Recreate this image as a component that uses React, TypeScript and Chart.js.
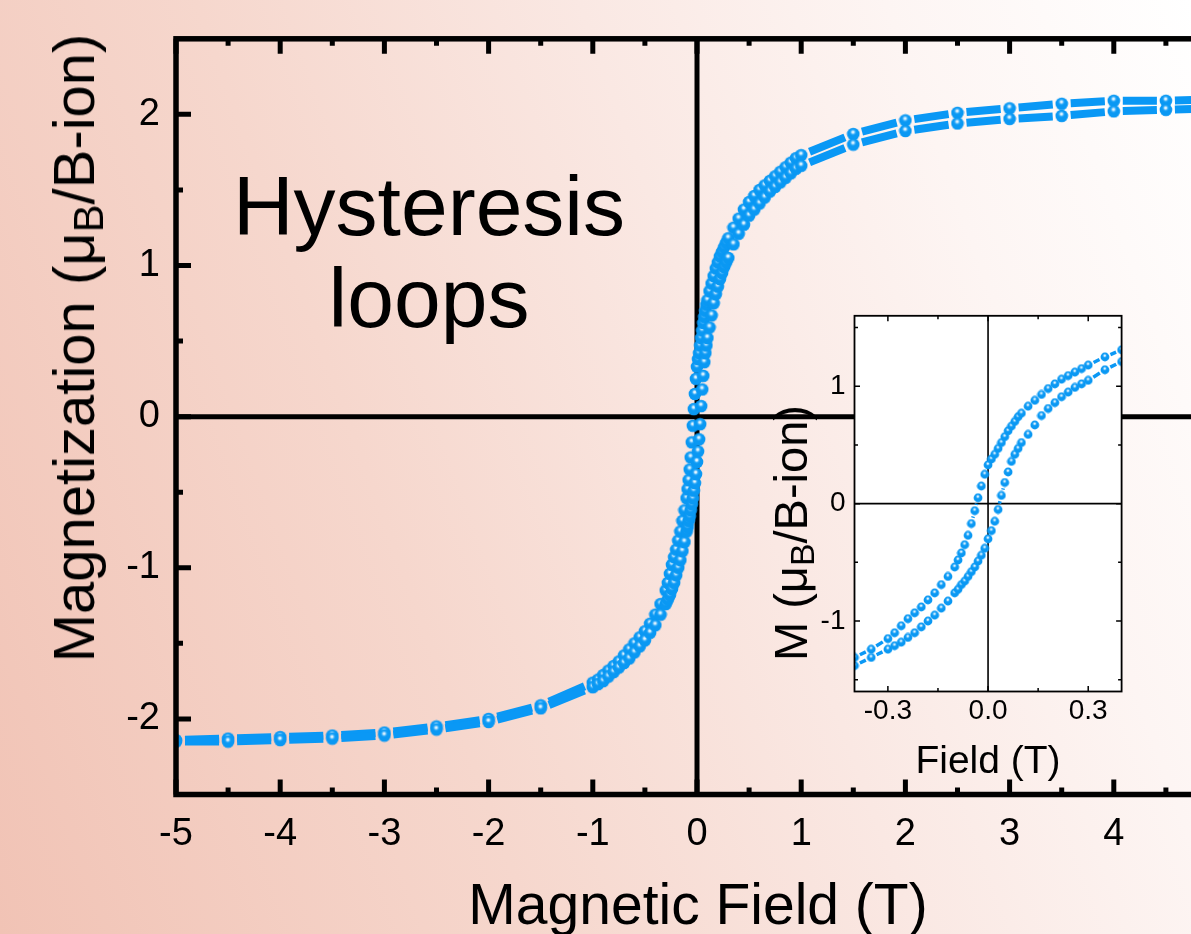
import React, { useEffect, useRef } from 'react';
import { Chart, registerables } from 'chart.js';

Chart.register(...registerables);

// ---- data (field in T, magnetization in muB/B-ion) ----
const FIELD = [
  -5, -4.5, -4, -3.5, -3, -2.5, -2, -1.5, -1,
  -0.95, -0.9, -0.85, -0.8, -0.75, -0.7, -0.65, -0.6, -0.55, -0.5, -0.45, -0.4, -0.35,
  -0.3, -0.28, -0.26, -0.24, -0.22, -0.2, -0.18, -0.16, -0.14, -0.12,
  -0.1, -0.09, -0.08, -0.07, -0.06, -0.05, -0.04, -0.03, -0.02, -0.01, 0,
  0.01, 0.02, 0.03, 0.04, 0.05, 0.06, 0.07, 0.08, 0.09, 0.1,
  0.12, 0.14, 0.16, 0.18, 0.2, 0.22, 0.24, 0.26, 0.28, 0.3,
  0.35, 0.4, 0.45, 0.5, 0.55, 0.6, 0.65, 0.7, 0.75, 0.8, 0.85, 0.9, 0.95, 1,
  1.5, 2, 2.5, 3, 3.5, 4, 4.5, 5,
];

// descending branch (upper)
const M_DOWN = [
  -2.14, -2.13, -2.12, -2.11, -2.09, -2.05, -2.0, -1.91, -1.76,
  -1.74, -1.71, -1.68, -1.65, -1.62, -1.58, -1.54, -1.5, -1.46, -1.42, -1.37, -1.31, -1.24,
  -1.15, -1.1, -1.04, -0.98, -0.93, -0.88, -0.82, -0.76, -0.69, -0.62,
  -0.54, -0.48, -0.42, -0.35, -0.27, -0.17, -0.06, 0.05, 0.15, 0.25, 0.33,
  0.38, 0.42, 0.47, 0.52, 0.57, 0.62, 0.66, 0.7, 0.74, 0.77,
  0.83, 0.88, 0.93, 0.98, 1.02, 1.06, 1.09, 1.12, 1.15, 1.18,
  1.25, 1.31, 1.37, 1.42, 1.46, 1.5, 1.53, 1.56, 1.59, 1.62, 1.65, 1.68, 1.71, 1.73,
  1.87, 1.96, 2.01, 2.04, 2.07, 2.09, 2.09, 2.1,
];

// ascending branch (lower)
const M_UP = [
  -2.15, -2.15, -2.14, -2.13, -2.11, -2.07, -2.02, -1.93, -1.79,
  -1.77, -1.75, -1.72, -1.69, -1.66, -1.63, -1.6, -1.56, -1.52, -1.48, -1.43, -1.38, -1.31,
  -1.24, -1.21, -1.18, -1.14, -1.1, -1.05, -1.0, -0.95, -0.89, -0.83,
  -0.76, -0.73, -0.69, -0.66, -0.62, -0.58, -0.54, -0.49, -0.44, -0.38, -0.3,
  -0.23, -0.15, -0.05, 0.07, 0.18, 0.27, 0.36, 0.42, 0.47, 0.52,
  0.59, 0.67, 0.75, 0.81, 0.86, 0.91, 0.95, 0.99, 1.02, 1.05,
  1.14, 1.21, 1.27, 1.33, 1.37, 1.41, 1.45, 1.49, 1.52, 1.55, 1.58, 1.61, 1.64, 1.66,
  1.8, 1.89, 1.94, 1.97, 1.99, 2.02, 2.03, 2.04,
];

// ---- ticks ----
const X_TICKS = [-5, -4, -3, -2, -1, 0, 1, 2, 3, 4, 5];
const X_MINOR = [-4.5, -3.5, -2.5, -1.5, -0.5, 0.5, 1.5, 2.5, 3.5, 4.5];
const Y_TICKS = [-2, -1, 0, 1, 2];
const Y_MINOR = [-1.5, -0.5, 0.5, 1.5];
const INSET_X_TICKS = [-0.3, 0, 0.3];
const INSET_X_MINOR = [-0.15, 0.15];
const INSET_Y_TICKS = [-1, 0, 1];
const INSET_Y_MINOR = [-1.5, -0.5, 0.5, 1.5];

const FONT = '"Liberation Sans", Arial, Helvetica, sans-serif';
const BLUE = '#0a98f5';
const BG = 'linear-gradient(70deg, #f1c3b5 0%, #f6d7cd 35%, #fae8e3 60%, #fdf5f3 80%, #ffffff 100%)';

function makeBall(r: number) {
  const size = Math.ceil(2 * r) + 1;
  const c = document.createElement('canvas');
  c.width = size;
  c.height = size;
  const g = c.getContext('2d')!;
  const cx = size / 2;
  const cy = size / 2;
  g.fillStyle = '#0a98f3';
  g.beginPath();
  g.arc(cx, cy, r, 0, Math.PI * 2);
  g.fill();
  const grad = g.createRadialGradient(cx - r * 0.05, cy - r * 0.3, 0, cx - r * 0.05, cy - r * 0.3, r * 0.6);
  grad.addColorStop(0, 'rgba(255,255,255,1)');
  grad.addColorStop(0.3, 'rgba(220,242,255,0.9)');
  grad.addColorStop(0.7, 'rgba(90,190,255,0.35)');
  grad.addColorStop(1, 'rgba(60,175,255,0)');
  g.fillStyle = grad;
  g.beginPath();
  g.arc(cx, cy, r, 0, Math.PI * 2);
  g.fill();
  return c;
}

function gapDash(gap: number) {
  return (ctx: any) => {
    const len = Math.hypot(ctx.p1.x - ctx.p0.x, ctx.p1.y - ctx.p0.y);
    if (len <= 2 * gap + 1) return [0, len + 1];
    return [0, gap, len - 2 * gap, gap];
  };
}

function framePlugin(id: string, cfg: any) {
  return {
    id,
    beforeDraw(chart: any) {
      if (!cfg.fill) return;
      const a = chart.chartArea;
      const ctx = chart.ctx;
      ctx.save();
      ctx.fillStyle = cfg.fill;
      ctx.fillRect(a.left, a.top, a.right - a.left, a.bottom - a.top);
      ctx.restore();
    },
    beforeDatasetsDraw(chart: any) {
      const a = chart.chartArea;
      const ctx = chart.ctx;
      const xs = chart.scales.x;
      const ys = chart.scales.y;
      ctx.save();
      ctx.strokeStyle = '#000';
      ctx.lineWidth = cfg.zero;
      const x0 = xs.getPixelForValue(0);
      const y0 = ys.getPixelForValue(0);
      ctx.beginPath();
      ctx.moveTo(x0, a.top);
      ctx.lineTo(x0, a.bottom);
      ctx.moveTo(a.left, y0);
      ctx.lineTo(a.right, y0);
      ctx.stroke();
      ctx.restore();
    },
    afterDatasetsDraw(chart: any) {
      const a = chart.chartArea;
      const ctx = chart.ctx;
      const xs = chart.scales.x;
      const ys = chart.scales.y;
      ctx.save();
      ctx.strokeStyle = '#000';
      ctx.lineWidth = cfg.tickW;
      const tick = (vals: number[], len: number, horiz: boolean) => {
        ctx.beginPath();
        for (const v of vals) {
          if (horiz) {
            const p = xs.getPixelForValue(v);
            ctx.moveTo(p, a.bottom);
            ctx.lineTo(p, a.bottom - len);
            ctx.moveTo(p, a.top);
            ctx.lineTo(p, a.top + len);
          } else {
            const p = ys.getPixelForValue(v);
            ctx.moveTo(a.left, p);
            ctx.lineTo(a.left + len, p);
            ctx.moveTo(a.right, p);
            ctx.lineTo(a.right - len, p);
          }
        }
        ctx.stroke();
      };
      tick(cfg.xMajor, cfg.major, true);
      tick(cfg.xMinor, cfg.minor, true);
      tick(cfg.yMajor, cfg.major, false);
      tick(cfg.yMinor, cfg.minor, false);
      ctx.lineWidth = cfg.border;
      ctx.strokeRect(a.left, a.top, a.right - a.left, a.bottom - a.top);
      ctx.restore();
    },
  };
}

function branch(vals: number[]) {
  return FIELD.map((x, i) => ({ x, y: vals[i] }));
}

export default function App() {
  const mainRef = useRef<HTMLCanvasElement>(null);
  const insetRef = useRef<HTMLCanvasElement>(null);

  useEffect(() => {
    Chart.defaults.font.family = FONT;
    const bigBall = makeBall(6.3);
    const smallBall = makeBall(4.4);

    const mkDs = (vals: number[], ball: any, w: number, gap: number, r: number) => ({
      data: branch(vals),
      borderColor: BLUE,
      borderWidth: w,
      pointStyle: ball,
      pointRadius: r,
      tension: 0,
      fill: false,
      segment: { borderDash: gapDash(gap) },
    });

    const main = new Chart(mainRef.current!, {
      type: 'line',
      data: {
        datasets: [
          mkDs(M_UP, bigBall, 8, 9, 6),
          mkDs(M_DOWN, bigBall, 8, 9, 6),
        ],
      },
      options: {
        animation: false,
        responsive: false,
        devicePixelRatio: 1,
        events: [],
        layout: { padding: { left: 0, top: 36, right: 82, bottom: 0 } },
        plugins: { legend: { display: false }, tooltip: { enabled: false } },
        scales: {
          x: {
            type: 'linear',
            min: -5,
            max: 5,
            afterBuildTicks: (s: any) => { s.ticks = X_TICKS.map((v) => ({ value: v })); },
            afterFit: (s: any) => { s.height = 139.5; },
            grid: { display: false, drawTicks: false },
            border: { display: false },
            ticks: { color: '#000', font: { size: 38 }, padding: 17, maxRotation: 0, autoSkip: false, callback: (v: any) => String(v) },
          },
          y: {
            type: 'linear',
            min: -2.5,
            max: 2.5,
            afterBuildTicks: (s: any) => { s.ticks = Y_TICKS.map((v) => ({ value: v })); },
            afterFit: (s: any) => { s.width = 176; },
            grid: { display: false, drawTicks: false },
            border: { display: false },
            ticks: { color: '#000', font: { size: 38 }, padding: 16, autoSkip: false, callback: (v: any) => String(v) },
          },
        },
      },
      plugins: [framePlugin('mainFrame', {
        zero: 5, tickW: 5, major: 15, minor: 7, border: 5.5,
        xMajor: X_TICKS, xMinor: X_MINOR, yMajor: Y_TICKS, yMinor: Y_MINOR,
      })],
    } as any);

    const inset = new Chart(insetRef.current!, {
      type: 'line',
      data: {
        datasets: [
          mkDs(M_UP, smallBall, 3.5, 6, 4),
          mkDs(M_DOWN, smallBall, 3.5, 6, 4),
        ],
      },
      options: {
        animation: false,
        responsive: false,
        devicePixelRatio: 1,
        events: [],
        layout: { padding: { left: 0, top: 17.3, right: 38.4, bottom: 0 } },
        plugins: { legend: { display: false }, tooltip: { enabled: false } },
        scales: {
          x: {
            type: 'linear',
            min: -0.4,
            max: 0.4,
            afterBuildTicks: (s: any) => { s.ticks = INSET_X_TICKS.map((v) => ({ value: v })); },
            afterFit: (s: any) => { s.height = 108.5; },
            grid: { display: false, drawTicks: false },
            border: { display: false },
            ticks: { color: '#000', font: { size: 28 }, padding: 3, maxRotation: 0, autoSkip: false, callback: (v: any) => Number(v).toFixed(1) },
          },
          y: {
            type: 'linear',
            min: -1.6,
            max: 1.6,
            afterBuildTicks: (s: any) => { s.ticks = INSET_Y_TICKS.map((v) => ({ value: v })); },
            afterFit: (s: any) => { s.width = 94.5; },
            grid: { display: false, drawTicks: false },
            border: { display: false },
            ticks: { color: '#000', font: { size: 28 }, padding: 9, autoSkip: false, callback: (v: any) => String(v) },
          },
        },
      },
      plugins: [framePlugin('insetFrame', {
        fill: '#ffffff', zero: 1.6, tickW: 1.5, major: 5.5, minor: 3.5, border: 1.8,
        xMajor: INSET_X_TICKS, xMinor: INSET_X_MINOR, yMajor: INSET_Y_TICKS, yMinor: INSET_Y_MINOR,
      })],
    } as any);

    return () => {
      main.destroy();
      inset.destroy();
    };
  }, []);

  const sub = { fontSize: '0.72em', position: 'relative' as const, top: '0.22em' };

  return (
    <div style={{ position: 'fixed', left: 0, top: 0, width: 1191, height: 934, overflow: 'hidden', background: BG, fontFamily: FONT, color: '#000' }}>
      <canvas ref={mainRef} width={1300} height={934} style={{ position: 'absolute', left: 0, top: 0 }} />
      <div style={{ position: 'absolute', left: 429, top: 160, transform: 'translateX(-50%)', fontSize: 84, lineHeight: '92px', textAlign: 'center', whiteSpace: 'nowrap' }}>
        Hysteresis<br />loops
      </div>
      <div style={{ position: 'absolute', left: 698, top: 875.8, transform: 'translateX(-50%)', fontSize: 57, lineHeight: '57px', whiteSpace: 'nowrap' }}>
        Magnetic Field (T)
      </div>
      <div style={{ position: 'absolute', left: 77, top: 348, transform: 'translate(-50%, -50%) rotate(-90deg)', fontSize: 58, lineHeight: '58px', whiteSpace: 'nowrap' }}>
        Magnetization (μ<span style={sub}>B</span>/B-ion)
      </div>
      <canvas ref={insetRef} width={400} height={510} style={{ position: 'absolute', left: 760, top: 290 }} />
      <div style={{ position: 'absolute', left: 988, top: 740, transform: 'translateX(-50%)', fontSize: 39, lineHeight: '39px', whiteSpace: 'nowrap' }}>
        Field (T)
      </div>
      <div style={{ position: 'absolute', left: 793, top: 533, transform: 'translate(-50%, -50%) rotate(-90deg)', fontSize: 47, lineHeight: '47px', whiteSpace: 'nowrap' }}>
        M (μ<span style={sub}>B</span>/B-ion)
      </div>
    </div>
  );
}
